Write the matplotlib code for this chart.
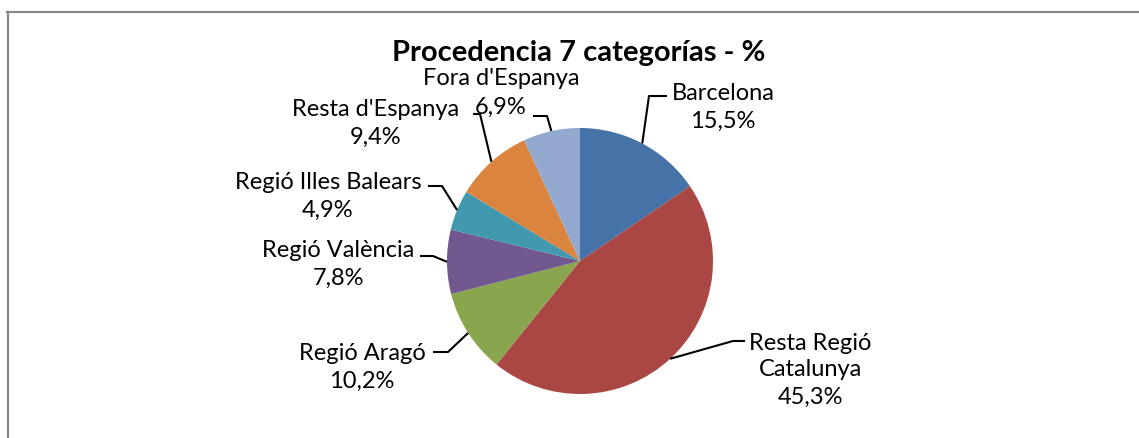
import numpy as np
import matplotlib.pyplot as plt
from matplotlib.lines import Line2D

# Data
labels = ["Barcelona", "Resta Regió\nCatalunya", "Regió Aragó", "Regió València",
          "Regió Illes Balears", "Resta d'Espanya", "Fora d'Espanya"]
values = [15.5, 45.3, 10.2, 7.8, 4.9, 9.4, 6.9]
colors = ["#4572A7", "#AA4643", "#89A54E", "#71588F", "#4198AF", "#DB843D", "#93A9CF"]

W, H = 1139, 439
cx, cy, r = 580, 262, 133

def py(y):
    return H - y

fig = plt.figure(figsize=(W / 100, H / 100), dpi=100)
ax = fig.add_axes([0, 0, 1, 1])

wedges, _ = ax.pie(values, colors=colors, startangle=90, counterclock=False,
                   center=(cx, py(cy)), radius=r, frame=True,
                   wedgeprops=dict(linewidth=0))
ax.set_xlim(0, W)
ax.set_ylim(0, H)
ax.set_aspect("equal")
ax.axis("off")

# label layout: (elbow x, elbow y, end x, text x, text y, line spacing)
layout = [
    (649, 97, 667, 723, 107, 1.4),
    (733, 342, 745, 810, 370, 1.35),
    (448, 353, 433, 362, 367, 1.4),
    (433, 257, 420, 338, 264, 1.4),
    (442, 187, 428, 328, 196, 1.4),
    (480, 115, 473, 376, 123, 1.4),
    (547, 117, 533, 501, 93, 1.5),
]

fnt = "Lato"
for w, lab, v, (ex, ey, hx, tx, ty, ls) in zip(wedges, labels, values, layout):
    ang = np.deg2rad((w.theta1 + w.theta2) / 2)
    x0 = cx + r * np.cos(ang)
    y0 = py(cy) + r * np.sin(ang)
    ax.plot([x0, ex, hx], [y0, py(ey), py(ey)], color="black", lw=1.5,
            solid_capstyle="butt")
    txt = lab + "\n" + ("%.1f%%" % v).replace(".", ",")
    ax.text(tx, py(ty), txt, ha="center", va="center", fontsize=17, family=fnt,
            linespacing=ls)

ax.text(579, py(53), "Procedencia 7 categorías - %", ha="center", va="center",
        fontsize=21, fontweight="bold", family=fnt)

# chart border
fig.add_artist(Line2D([7.5 / W, 7.5 / W], [0, py(13) / H], color="#888888", lw=1.6,
                      transform=fig.transFigure))
fig.add_artist(Line2D([7 / W, 1], [py(13) / H, py(13) / H], color="#888888", lw=1.6,
                      transform=fig.transFigure))

fig.savefig("out.png", dpi=100)
